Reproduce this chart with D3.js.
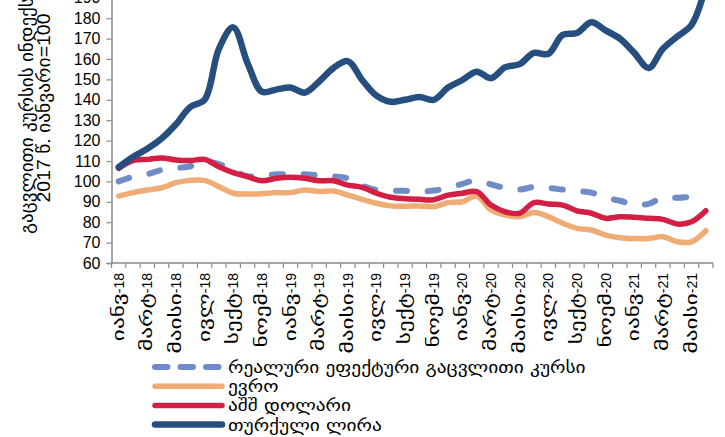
<!DOCTYPE html>
<html lang="ka">
<head>
<meta charset="UTF-8">
<title>გაცვლითი კურსის ინდექსი</title>
<script src="https://d3js.org/d3.v7.min.js"></script>
<style>
    body { margin: 0; background: #fff; }
    svg { display: block; font-family: "Liberation Sans", "DejaVu Sans", sans-serif; }
</style>
</head>
<body>
<svg id="chart" width="725" height="437"></svg>
<script>
    // months Jan-2018 .. Jun-2021
    const monthNames = ["იანვ", "თებ", "მარტ", "აპრ", "მაისი", "ივნ", "ივლ", "აგვ", "სექტ", "ოქტ", "ნოემ", "დეკ"];
    const months = [];
    for (let y = 18; y <= 21; y++) {
        for (let m = 0; m < 12; m++) {
            if (y === 21 && m > 5) break;
            months.push(monthNames[m] + "-" + y);
        }
    }

    const reer = [100, 102.3, 103.5, 105.6, 106.5, 107.4, 109.5, 108.5, 105.5, 102.5, 102.8, 103.5,
        103.5, 103.5, 103, 102.5, 101.5, 98, 95.8, 95.5, 95.4, 95, 95.5, 96.8,
        98.8, 100.5, 98.5, 96.8, 96, 97.3, 96.8, 96, 95.3, 94.5, 92, 90.5,
        88.5, 89, 92, 92, 92.5, null];
    const euro = [92.8, 94.5, 95.8, 96.9, 99.4, 100.5, 100.5, 97.4, 94.2, 93.8, 94, 94.5,
        94.5, 95.8, 95, 95.3, 93.3, 91.2, 89.3, 88, 87.8, 88, 87.6, 89.6,
        90, 92.8, 86, 83.5, 82.7, 84.7, 82.7, 79.5, 77, 76.2, 73.7, 72.4,
        72, 72, 72.9, 70.4, 70.4, 75.8];
    const usd = [106.4, 110.2, 110.8, 111.5, 110.5, 110.2, 110.8, 107.2, 104.3, 102.3, 100.3, 101.5,
        102, 101.5, 100.3, 100.3, 98.2, 97.1, 94.2, 92.2, 91.5, 91.2, 91, 93.3,
        94.2, 95, 88.4, 85.1, 84.4, 89.6, 88.9, 88.4, 85.6, 84.4, 81.9, 82.7,
        82.4, 81.9, 81.4, 79.1, 80.2, 85.6];
    const lira = [107, 112, 116, 121, 128, 136.5, 140, 165, 175.5, 158, 144, 145,
        146, 143.5, 149, 155.6, 159, 149.7, 142, 139, 140, 141.4, 140, 146,
        149.7, 153.8, 150.6, 156, 157.5, 163, 162.5, 171.8, 172.7, 178, 174, 170,
        163, 155.6, 165, 171, 176.7, 196];

    const labelMonths = months.filter((d, i) => i % 2 === 0);
    const yTicks = d3.range(60, 201, 10);

    const series = [
        { name: "რეალური ეფექტური გაცვლითი კურსი", values: reer, color: "#6f8cc8", width: 6, dash: "11,20.7", legendDash: "12.5,13" },
        { name: "ევრო", values: euro, color: "#efac75", width: 5.5, dash: null },
        { name: "აშშ დოლარი", values: usd, color: "#d21f43", width: 5.5, dash: null },
        { name: "თურქული ლირა", values: lira, color: "#264f80", width: 6.5, dash: null }
    ];

    const svg = d3.select("#chart");
    const axisColor = "#8a8a8a";
    const geoFont = "DejaVu Sans, sans-serif";

    const x = d3.scaleBand().domain(months).range([111.5, 713]);
    const y = d3.scaleLinear().domain([60, 200]).range([263, 263 - 140 * 2.04]);

    // y axis
    const yAxis = svg.append("g")
        .attr("transform", "translate(111.5,0)")
        .call(d3.axisLeft(y).tickValues(yTicks).tickSize(5).tickPadding(6));
    yAxis.select(".domain").attr("stroke", axisColor).attr("stroke-width", 1.5);
    yAxis.selectAll(".tick line").attr("stroke", axisColor).attr("stroke-width", 1.2);
    yAxis.selectAll(".tick text")
        .attr("fill", "#000")
        .attr("font-size", 16)
        .attr("font-family", "Liberation Sans, Arial, sans-serif");

    // x axis: tick marks on month boundaries
    const xg = svg.append("g");
    xg.append("line")
        .attr("x1", x.range()[0]).attr("x2", x.range()[1])
        .attr("y1", y(60)).attr("y2", y(60))
        .attr("stroke", axisColor).attr("stroke-width", 1.5);
    xg.selectAll(".xt")
        .data(months.concat(["end"]))
        .join("line")
        .attr("x1", (d, i) => x.range()[0] + i * x.step())
        .attr("x2", (d, i) => x.range()[0] + i * x.step())
        .attr("y1", y(60)).attr("y2", y(60) + 5)
        .attr("stroke", axisColor).attr("stroke-width", 1.2);
    const xl = xg.selectAll(".xl")
        .data(labelMonths)
        .join("text")
        .attr("transform", d => `translate(${x(d) + x.bandwidth() / 2 + 5},${y(60) + 10}) rotate(-90)`)
        .attr("text-anchor", "end")
        .attr("font-size", 14)
        .attr("font-family", "Liberation Sans, Arial, sans-serif");
    xl.append("tspan")
        .attr("font-family", geoFont)
        .attr("font-size", 15.5)
        .text(d => d.split("-")[0]);
    xl.append("tspan").text(d => "-" + d.split("-")[1]);
    // Georgian glyphs in the original font are much wider, stretch them
    xl.select("tspan").each(function () {
        const w = this.getComputedTextLength();
        d3.select(this).attr("textLength", w * 1.5).attr("lengthAdjust", "spacingAndGlyphs");
    });

    // y axis title
    const yt = svg.append("text")
        .attr("transform", "translate(33,108) rotate(-90)")
        .attr("text-anchor", "middle")
        .attr("font-size", 18)
        .attr("font-family", "Liberation Sans, DejaVu Sans, sans-serif");
    yt.append("tspan").attr("x", 0).attr("dy", 0)
        .attr("textLength", 252).attr("lengthAdjust", "spacingAndGlyphs")
        .text("გაცვლითი კურსის ინდექსი,");
    yt.append("tspan").attr("x", 0).attr("dy", 17)
        .attr("textLength", 189).attr("lengthAdjust", "spacingAndGlyphs")
        .text("2017 წ. იანვარი=100");

    // lines
    const line = d3.line()
        .defined(d => d != null)
        .x((d, i) => x(months[i]) + x.bandwidth() / 2)
        .y(d => y(d))
        .curve(d3.curveCatmullRom.alpha(0.5));

    series.forEach(s => {
        svg.append("path")
            .datum(s.values)
            .attr("fill", "none")
            .attr("stroke", s.color)
            .attr("stroke-width", s.width)
            .attr("stroke-linecap", "round")
            .attr("stroke-linejoin", "round")
            .attr("stroke-dasharray", s.dash)
            .attr("d", line);
    });

    // legend
    const legend = svg.append("g").attr("transform", "translate(152,367)");
    series.forEach((s, i) => {
        const row = legend.append("g").attr("transform", `translate(0,${i * 19.2})`);
        row.append("line")
            .attr("x1", 3).attr("x2", 70)
            .attr("stroke", s.color)
            .attr("stroke-width", s.width)
            .attr("stroke-linecap", "round")
            .attr("stroke-dasharray", s.legendDash || null);
        const t = row.append("text")
            .attr("x", 76)
            .attr("y", 6)
            .attr("font-size", 17)
            .attr("font-family", geoFont)
            .text(s.name);
        const w = t.node().getComputedTextLength();
        t.attr("textLength", w * 1.14).attr("lengthAdjust", "spacingAndGlyphs");
    });
</script>
</body>
</html>
